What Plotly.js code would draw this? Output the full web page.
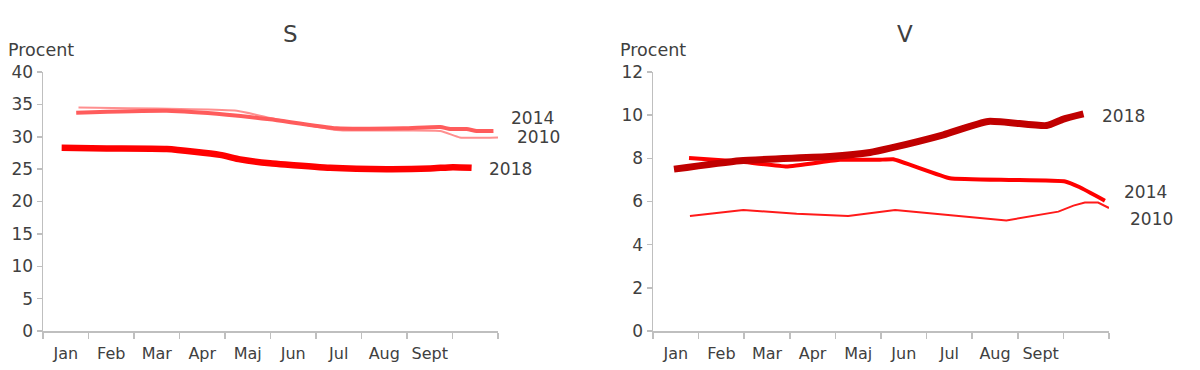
<!DOCTYPE html>
<html>
<head>
<meta charset="utf-8">
<script src="https://cdn.plot.ly/plotly-3.0.1.min.js"></script>
<style>html,body{margin:0;padding:0;background:#fff;}#chart{width:1200px;height:370px;}</style>
</head>
<body>
<div id="chart"></div>
<script>
// Month categories (each month occupies one unit slot; 10 slots, last one empty)
const months = ["Jan", "Feb", "Mar", "Apr", "Maj", "Jun", "Jul", "Aug", "Sept"];
const monthPos = [0.5, 1.5, 2.5, 3.5, 4.5, 5.5, 6.5, 7.5, 8.5];
const slotEdges = [0, 1, 2, 3, 4, 5, 6, 7, 8, 9, 10];

// Panel S (percent)
const sX2018 = [0.41, 1.4, 2.72, 3.89, 4.33, 4.99, 5.17, 6.31, 7.55, 8.51, 9.01, 9.42];
const sY2018 = [28.3, 28.2, 28.1, 27.2, 26.5, 25.9, 25.8, 25.2, 25.0, 25.1, 25.3, 25.2];
const sX2014 = [0.73, 2.72, 4.04, 4.99, 6.45, 7.92, 8.73, 8.95, 9.31, 9.53, 9.9];
const sY2014 = [33.7, 34.0, 33.4, 32.7, 31.3, 31.3, 31.5, 31.2, 31.2, 30.9, 30.9];
const sX2010 = [0.78, 4.26, 4.99, 6.53, 8.73, 9.16, 10.0];
const sY2010 = [34.5, 34.0, 32.9, 31.0, 30.9, 29.9, 29.9];

// Panel V (percent)
const vX2018 = [0.46, 1.91, 3.88, 4.76, 5.2, 6.37, 7.35, 8.63, 9.0, 9.44];
const vY2018 = [7.5, 7.89, 8.08, 8.27, 8.47, 9.09, 9.71, 9.52, 9.82, 10.06];
const vX2014 = [0.79, 1.91, 2.93, 4.1, 4.95, 5.27, 6.51, 7.83, 9.04, 9.36, 9.91];
const vY2014 = [8.01, 7.85, 7.62, 7.93, 7.93, 7.96, 7.08, 7.0, 6.93, 6.66, 6.04];
const vX2010 = [0.81, 1.98, 3.15, 4.28, 5.31, 7.75, 8.89, 9.22, 9.47, 9.76, 10.0];
const vY2010 = [5.33, 5.61, 5.43, 5.33, 5.61, 5.12, 5.53, 5.81, 5.95, 5.95, 5.7];

const years = ["2018", "2014", "2010"];

const FONT = "DejaVu Sans, sans-serif";
const TXT = "#404040";
const AX = "#bfbfbf";

const traces = [
  {x: sX2010, y: sY2010, xaxis: "x", yaxis: "y", mode: "lines", name: years[2],
   line: {color: "#ff8f8f", width: 2, shape: "spline", smoothing: 0.4}},
  {x: sX2014, y: sY2014, xaxis: "x", yaxis: "y", mode: "lines", name: years[1],
   line: {color: "#ff5c5c", width: 4, shape: "spline", smoothing: 0.5}},
  {x: sX2018, y: sY2018, xaxis: "x", yaxis: "y", mode: "lines", name: years[0],
   line: {color: "#ff0000", width: 6.5, shape: "spline", smoothing: 0.6}},
  {x: vX2010, y: vY2010, xaxis: "x2", yaxis: "y2", mode: "lines", name: years[2],
   line: {color: "#ff1a1a", width: 2}},
  {x: vX2014, y: vY2014, xaxis: "x2", yaxis: "y2", mode: "lines", name: years[1],
   line: {color: "#ff0000", width: 4, shape: "spline", smoothing: 0.3}},
  {x: vX2018, y: vY2018, xaxis: "x2", yaxis: "y2", mode: "lines", name: years[0],
   line: {color: "#c00000", width: 7, shape: "spline", smoothing: 0.5}}
];

function xAxis(domain, anchor) {
  return {
    domain: domain, anchor: anchor, range: [0, 10], fixedrange: true,
    tickmode: "array", tickvals: monthPos, ticktext: months, ticks: "",
    ticklabelstandoff: 7,
    showline: true, linecolor: AX, linewidth: 1.5, showgrid: false, zeroline: false,
    tickfont: {family: FONT, size: 16, color: TXT},
    minor: {tickmode: "array", tickvals: slotEdges, ticks: "outside", ticklen: 6, tickwidth: 1.5, tickcolor: AX, showgrid: false}
  };
}
function yAxis(anchor, range, dtick) {
  return {
    domain: [39/370, 298/370], anchor: anchor, range: range, dtick: dtick, tick0: 0,
    fixedrange: true, showline: true, linecolor: AX, linewidth: 1.5, showgrid: false, zeroline: false,
    ticks: "outside", ticklen: 5, tickwidth: 1.5, tickcolor: AX,
    tickfont: {family: FONT, size: 17, color: TXT}
  };
}

const ann = [];
function label(text, px, py, size, xanchor) {
  ann.push({text: text, x: px / 1200, y: 1 - py / 370, xref: "paper", yref: "paper", showarrow: false,
    xanchor: xanchor || "center", yanchor: "middle",
    font: {family: FONT, size: size, color: TXT}});
}
// titles
label("S", 290, 34, 23);
label("V", 905, 34, 23);
label("Procent", 6, 50, 17.5, "left");
label("Procent", 618, 50, 17.5, "left");
// year labels
label(years[1], 532, 118, 17);
label(years[2], 538, 137, 17);
label(years[0], 510, 169, 17);
label(years[0], 1123, 116, 17);
label(years[1], 1145, 192, 17);
label(years[2], 1151, 219, 17);

const layout = {
  width: 1200, height: 370,
  margin: {l: 0, r: 0, t: 0, b: 0},
  paper_bgcolor: "#ffffff", plot_bgcolor: "#ffffff",
  showlegend: false,
  xaxis: xAxis([43/1200, 498/1200], "y"),
  yaxis: yAxis("x", [0, 40], 5),
  xaxis2: xAxis([653/1200, 1109/1200], "y2"),
  yaxis2: yAxis("x2", [0, 12], 2),
  annotations: ann
};

Plotly.newPlot("chart", traces, layout, {staticPlot: true, displayModeBar: false});
</script>
</body>
</html>
